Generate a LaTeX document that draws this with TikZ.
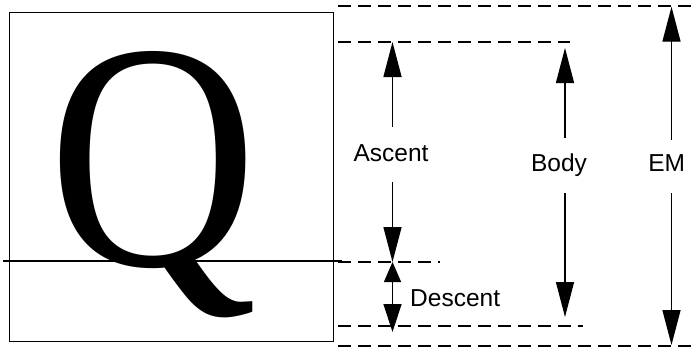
\documentclass[tikz,border=0pt]{standalone}
\usepackage{fontspec}
\setmainfont{Liberation Sans}
\newfontfamily\qfont{Liberation Serif}
\usetikzlibrary{arrows.meta}
\begin{document}
\begin{tikzpicture}[x=1pt,y=-1pt,
  guide/.style={line width=2pt,dash pattern=on 13pt off 7pt},
  solidline/.style={line width=1.4pt},
  dimarrow/.style={line width=1.4pt,-{Triangle[length=35pt,width=18pt]}},
  smallarrow/.style={line width=1.4pt,{Triangle[length=20pt,width=17pt]}-{Triangle[length=28pt,width=18pt]}},
  lbl/.style={inner sep=0pt,anchor=base,font=\fontsize{24.5pt}{28pt}\selectfont}]
\useasboundingbox (0,0) rectangle (696,348);
% box and glyph
\node[draw,solidline,inner sep=0pt,minimum width=324pt,minimum height=329pt,anchor=north west] (box) at (9,12) {};
\node[inner sep=0pt,anchor=base west,font=\qfont\fontsize{305pt}{305pt}\selectfont] (q) at (48,265) {\scalebox{0.95}[1.06]{Q}};
\coordinate (bl0) at (3,261);
\coordinate (bl1) at (342,261);
\draw[solidline] (bl0) -- (bl1);
% guide lines
\coordinate (emT0) at (338,6);   \coordinate (emT1) at (692,6);
\coordinate (asT0) at (338,42);  \coordinate (asT1) at (570,42);
\coordinate (base0) at (338,262);\coordinate (base1) at (440,262);
\coordinate (deB0) at (338,326); \coordinate (deB1) at (583,326);
\coordinate (emB0) at (338,346); \coordinate (emB1) at (692,346);
\draw[guide] (emT0) -- (emT1);
\draw[guide] (asT0) -- (asT1);
\draw[guide] (base0) -- (base1);
\draw[guide] (deB0) -- (deB1);
\draw[guide] (emB0) -- (emB1);
% labels
\node[lbl] (ascent) at (391,161) {Ascent};
\node[lbl,anchor=base west] (descent) at (410,306.7) {Descent};
\node[lbl] (body) at (559,171.7) {Body};
\node[lbl] (em) at (666.7,171.7) {EM};
% arrow ends
\coordinate (a1) at (392.5,127); \coordinate (a1t) at (392.5,42);
\coordinate (a2) at (392.5,182); \coordinate (a2t) at (392.5,262);
\coordinate (d1) at (392.5,262); \coordinate (d2) at (392.5,332);
\coordinate (b1) at (565,138);   \coordinate (b1t) at (565,48);
\coordinate (b2) at (565,193);   \coordinate (b2t) at (565,317);
\coordinate (e1) at (671.5,140); \coordinate (e1t) at (671.5,6.7);
\coordinate (e2) at (671.5,193); \coordinate (e2t) at (671.5,345);
\draw[dimarrow] (a1) -- (a1t);
\draw[dimarrow] (a2) -- (a2t);
\draw[smallarrow] (d1) -- (d2);
\draw[dimarrow] (b1) -- (b1t);
\draw[dimarrow] (b2) -- (b2t);
\draw[dimarrow] (e1) -- (e1t);
\draw[dimarrow] (e2) -- (e2t);
\end{tikzpicture}
\end{document}
